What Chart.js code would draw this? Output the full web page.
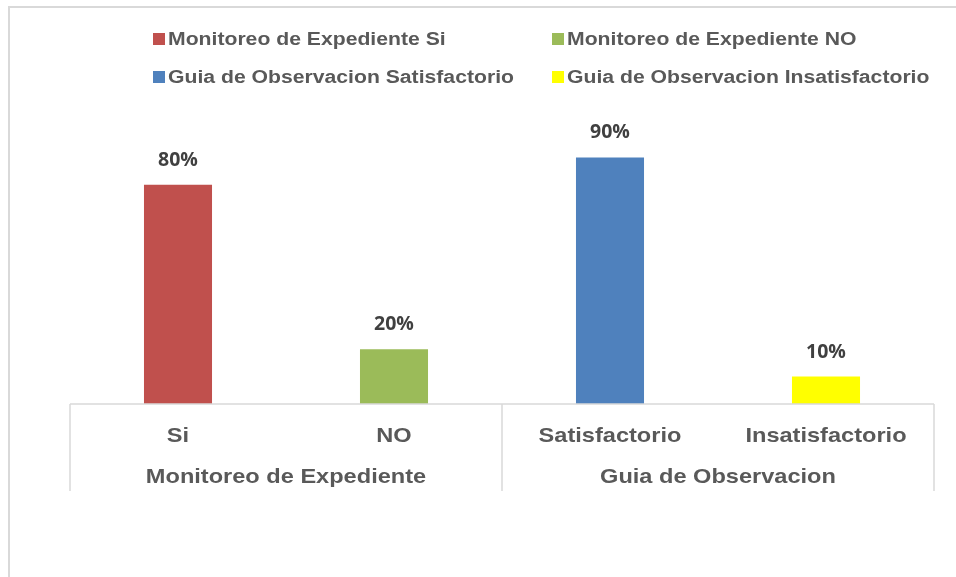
<!DOCTYPE html>
<html>
<head>
<meta charset="utf-8">
<script src="https://cdn.jsdelivr.net/npm/chart.js@4.4.1/dist/chart.umd.min.js"></script>
<style>
  html, body { margin: 0; padding: 0; background: #ffffff; }
  canvas { display: block; }
</style>
</head>
<body>
<canvas id="barChart" width="956" height="577"></canvas>
<script>
// chart data
const categories = ['Si', 'NO', 'Satisfactorio', 'Insatisfactorio'];
const groups = ['Monitoreo de Expediente', 'Guia de Observacion'];
const groupSizes = [2, 2];
const values = [80, 20, 90, 10];
const seriesNames = [
  'Monitoreo de Expediente Si',
  'Monitoreo de Expediente NO',
  'Guia de Observacion Satisfactorio',
  'Guia de Observacion Insatisfactorio'
];
const barColors = ['#C0504D', '#9BBB59', '#4F81BD', '#FFFF00'];

const textColor = '#595959';
const lineColor = '#d9d9d9';

// the original text is a bit wider than Arial, so stretch it horizontally
const drawText = (ctx, text, x, y, font, align, stretch) => {
  ctx.save();
  ctx.font = font;
  ctx.textBaseline = 'alphabetic';
  ctx.textAlign = align;
  ctx.translate(x, y);
  ctx.scale(stretch, 1);
  ctx.fillText(text, 0, 0);
  ctx.restore();
};

// legend in two columns, like the spreadsheet one
const legendPlugin = {
  id: 'gridLegend',
  afterDraw(chart) {
    const ctx = chart.ctx;
    const colX = [153, 552];
    const rowY = [45, 83];
    seriesNames.forEach((name, i) => {
      const x = colX[i % 2];
      const y = rowY[Math.floor(i / 2)];
      ctx.fillStyle = barColors[i];
      ctx.fillRect(x, y - 12, 12, 12);
      ctx.fillStyle = textColor;
      drawText(ctx, name, x + 15, y, 'bold 17.5px "Liberation Sans", Arial', 'left', 1.21);
    });
  }
};

// category axis with two levels and separators
const groupAxisPlugin = {
  id: 'groupAxis',
  afterDraw(chart) {
    const ctx = chart.ctx;
    const xs = chart.scales.x;
    const area = chart.chartArea;
    const step = xs.getPixelForValue(1) - xs.getPixelForValue(0);
    const left = xs.getPixelForValue(0) - step / 2;

    ctx.save();
    ctx.strokeStyle = lineColor;
    ctx.lineWidth = 1.5;
    ctx.beginPath();
    ctx.moveTo(left, area.bottom);
    ctx.lineTo(left + step * categories.length, area.bottom);
    let idx = 0;
    const bounds = [left];
    groupSizes.forEach((n) => {
      idx += n;
      bounds.push(left + step * idx);
    });
    bounds.forEach((bx) => {
      ctx.moveTo(bx, area.bottom);
      ctx.lineTo(bx, area.bottom + 87);
    });
    ctx.stroke();
    ctx.restore();

    ctx.fillStyle = textColor;
    categories.forEach((c, i) => {
      drawText(ctx, c, xs.getPixelForValue(i), area.bottom + 38, 'bold 20.5px "Liberation Sans", Arial', 'center', 1.15);
    });
    groups.forEach((g, i) => {
      const cx = (bounds[i] + bounds[i + 1]) / 2;
      drawText(ctx, g, cx, area.bottom + 79, 'bold 20.5px "Liberation Sans", Arial', 'center', 1.15);
    });

    // outer frame of the chart
    ctx.save();
    ctx.strokeStyle = lineColor;
    ctx.lineWidth = 2;
    ctx.beginPath();
    ctx.moveTo(9, chart.height);
    ctx.lineTo(9, 7);
    ctx.lineTo(chart.width, 7);
    ctx.stroke();
    ctx.restore();
  }
};

// percentages above the bars
const valueLabelPlugin = {
  id: 'valueLabels',
  afterDatasetsDraw(chart) {
    const ctx = chart.ctx;
    const meta = chart.getDatasetMeta(0);
    ctx.fillStyle = '#404040';
    meta.data.forEach((bar, i) => {
      drawText(ctx, values[i] + '%', bar.x, bar.y - 19, 'bold 19.5px "Open Sans", sans-serif', 'center', 1);
    });
  }
};

new Chart(document.getElementById('barChart'), {
  type: 'bar',
  data: {
    labels: categories,
    datasets: [{
      data: values,
      backgroundColor: barColors,
      barPercentage: 0.315,
      categoryPercentage: 1
    }]
  },
  options: {
    responsive: false,
    animation: false,
    layout: {
      padding: { left: 70, right: 22, top: 130, bottom: 173 }
    },
    plugins: {
      legend: { display: false },
      tooltip: { enabled: false }
    },
    scales: {
      x: { display: false },
      y: { display: false, min: 0, max: 100 }
    }
  },
  plugins: [legendPlugin, groupAxisPlugin, valueLabelPlugin]
});
</script>
</body>
</html>
